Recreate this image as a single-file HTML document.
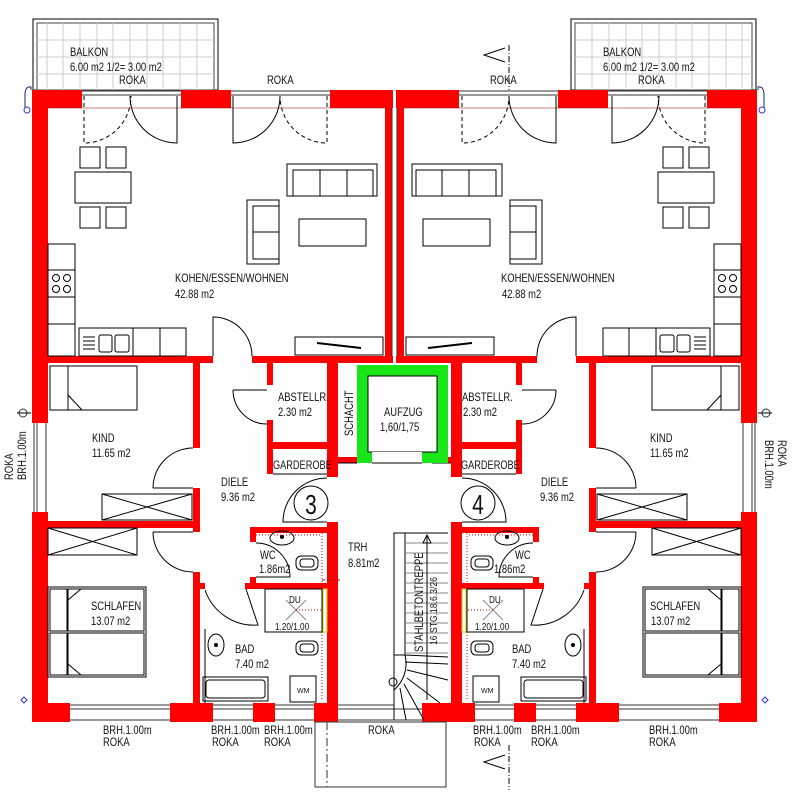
<!DOCTYPE html>
<html><head><meta charset="utf-8"><style>
html,body{margin:0;padding:0;background:#fff}
svg{display:block}
text{font-family:"Liberation Sans",sans-serif;font-size:11.5px;fill:#111}
</style></head><body>
<svg width="797" height="797" viewBox="0 0 797 797" xmlns="http://www.w3.org/2000/svg">
<defs>
<g id="half" stroke="#000" stroke-width="1" fill="none">
  <rect x="33" y="19" width="185" height="71"/>
  <rect x="37" y="23" width="177" height="67" stroke="#444"/>
  <g stroke="#ccc">
    <line x1="37" y1="40" x2="214" y2="40"/><line x1="37" y1="57" x2="214" y2="57"/><line x1="37" y1="74" x2="214" y2="74"/>
    <line x1="47" y1="23" x2="47" y2="90"/><line x1="63" y1="23" x2="63" y2="90"/><line x1="80" y1="23" x2="80" y2="90"/><line x1="97" y1="23" x2="97" y2="90"/><line x1="113" y1="23" x2="113" y2="90"/><line x1="130" y1="23" x2="130" y2="90"/><line x1="147" y1="23" x2="147" y2="90"/><line x1="163" y1="23" x2="163" y2="90"/><line x1="180" y1="23" x2="180" y2="90"/><line x1="197" y1="23" x2="197" y2="90"/>
  </g>
  <path d="M31,90 V87 Q25,86 25,95 V108" stroke="#226"/>
  <circle cx="27" cy="110" r="3" stroke="#33c"/>
  <g stroke="#333">
    <line x1="82" y1="91" x2="181" y2="91"/><line x1="82" y1="95" x2="181" y2="95"/>
    <line x1="231" y1="91" x2="330" y2="91"/><line x1="231" y1="95" x2="330" y2="95"/>
    <line x1="70" y1="705" x2="170" y2="705"/><line x1="70" y1="709" x2="170" y2="709"/><line x1="70" y1="720" x2="170" y2="720"/>
    <line x1="213" y1="705" x2="253" y2="705"/><line x1="213" y1="709" x2="253" y2="709"/><line x1="213" y1="720" x2="253" y2="720"/>
    <line x1="275" y1="705" x2="314" y2="705"/><line x1="275" y1="709" x2="314" y2="709"/><line x1="275" y1="720" x2="314" y2="720"/>
    <line x1="34" y1="423" x2="34" y2="512"/><line x1="37" y1="423" x2="37" y2="512"/><line x1="46" y1="423" x2="46" y2="512"/>
  </g>
  <circle cx="23" cy="413" r="4" stroke="#333"/><line x1="17" y1="413" x2="31" y2="413"/>
  <path d="M27,700 l-3,-3 l-3,3 l3,3 z" stroke="#33c"/>
  <g fill="#ff0000" stroke="none">
    <rect x="32" y="90" width="50" height="18"/><rect x="181" y="90" width="50" height="18"/><rect x="330" y="90" width="63" height="18"/>
    <rect x="32" y="90" width="16" height="333"/><rect x="32" y="512" width="16" height="210"/>
    <rect x="385" y="108" width="7" height="255"/>
    <rect x="48" y="356" width="165" height="7"/><rect x="252" y="356" width="141" height="7"/>
    <rect x="193" y="363" width="7" height="85"/><rect x="193" y="488" width="7" height="44"/><rect x="193" y="572" width="7" height="131"/>
    <rect x="48" y="521" width="152" height="7"/>
    <rect x="267" y="363" width="6" height="22"/><rect x="267" y="420" width="6" height="54"/>
    <rect x="267" y="442" width="66" height="7"/>
    <rect x="327" y="363" width="11" height="114"/><rect x="327" y="522" width="11" height="200"/>
    <rect x="338" y="457" width="19" height="6"/>
    <rect x="250" y="527" width="83" height="6"/><rect x="250" y="527" width="6" height="15"/><rect x="250" y="577" width="6" height="12"/>
    <rect x="245" y="583" width="88" height="6"/><rect x="200" y="583" width="5" height="6"/>
    <rect x="32" y="703" width="38" height="19"/><rect x="170" y="703" width="43" height="19"/><rect x="253" y="703" width="22" height="19"/><rect x="314" y="703" width="24" height="19"/>
  </g>
  <line x1="48" y1="108" x2="385" y2="108" stroke="#900" stroke-width="0.5"/>
  <path d="M84,96 V143 A47,47 0 0 0 131,96" stroke-dasharray="4,3"/>
  <path d="M177,96 V143 A47,47 0 0 1 130,96"/>
  <path d="M233,96 V143 A47,47 0 0 0 280,96"/>
  <path d="M327,96 V143 A47,47 0 0 1 280,96" stroke-dasharray="4,3"/>
  <rect x="80" y="147" width="20" height="21"/><rect x="106" y="147" width="20" height="21"/>
  <rect x="75" y="172" width="56" height="31"/>
  <rect x="80" y="207" width="20" height="21"/><rect x="106" y="207" width="20" height="21"/>
  <rect x="287" y="164" width="90" height="32"/><rect x="293" y="170" width="80" height="26"/>
  <line x1="320" y1="170" x2="320" y2="196"/><line x1="347" y1="170" x2="347" y2="196"/>
  <rect x="247" y="200" width="32" height="64"/><rect x="253" y="206" width="26" height="53"/><line x1="253" y1="232" x2="279" y2="232"/>
  <rect x="299" y="219" width="67" height="27"/>
  <rect x="48" y="244" width="27" height="112"/>
  <line x1="48" y1="270" x2="75" y2="270"/><line x1="48" y1="297" x2="75" y2="297"/><line x1="48" y1="324" x2="75" y2="324"/>
  <circle cx="56" cy="278" r="3.5"/><circle cx="67" cy="278" r="3.5"/><circle cx="56" cy="289" r="3.5"/><circle cx="67" cy="289" r="3.5"/>
  <rect x="79" y="328" width="107" height="28"/>
  <line x1="133" y1="328" x2="133" y2="356"/><line x1="160" y1="328" x2="160" y2="356"/>
  <rect x="99" y="335" width="13" height="17" rx="2"/><rect x="115" y="335" width="14" height="17" rx="2"/>
  <line x1="83" y1="337" x2="95" y2="337"/><line x1="83" y1="341" x2="95" y2="341"/><line x1="83" y1="345" x2="95" y2="345"/><line x1="83" y1="349" x2="95" y2="349"/>
  <rect x="295" y="337" width="88" height="18"/>
  <line x1="317" y1="343" x2="361" y2="348" stroke-width="2"/>
  <path d="M213,356 V317 A39,39 0 0 1 252,356"/>
  <path d="M233,390 H267 M233,390 A34,34 0 0 0 267,424"/>
  <path d="M153,488 H193 M153,488 A40,40 0 0 1 193,448"/>
  <path d="M153,532 H193 M153,532 A40,40 0 0 0 193,572"/>
  <path d="M327,478 A44,44 0 0 0 283,522 H327"/>
  <path d="M256,543 A34,34 0 0 1 290,577 H256"/>
  <path d="M205,590 A52,52 0 0 0 258,625 L246,589"/>
  <circle cx="311" cy="503" r="17"/>
  <rect x="50" y="366" width="87" height="44"/><rect x="50" y="366" width="18" height="44"/><path d="M68,395 l14,15"/>
  <rect x="102" y="494" width="90" height="26"/><path d="M102,494 L192,520 M102,520 L192,494"/>
  <rect x="48" y="528" width="89" height="27"/><path d="M48,528 L137,555 M48,555 L137,528"/>
  <rect x="48" y="587" width="98" height="90"/><rect x="50" y="589" width="17" height="42"/><rect x="50" y="633" width="17" height="42"/>
  <rect x="68" y="589" width="76" height="42"/><rect x="68" y="633" width="76" height="42"/>
  <path d="M68,600 l13,-11 M68,664 l13,11"/>
  <line x1="273" y1="474" x2="327" y2="474"/>
  <line x1="338" y1="463" x2="357" y2="463"/>
  <ellipse cx="282" cy="538" rx="12" ry="7"/><circle cx="282" cy="537" r="1.5" fill="#000"/>
  <rect x="296" y="556" width="22" height="14" rx="5"/><rect x="300" y="559" width="14" height="8" rx="3"/>
  <path d="M322,533 V700" stroke="#c00" stroke-dasharray="1,2"/>
  <line x1="256" y1="535" x2="322" y2="535" stroke="#c00" stroke-dasharray="1,2"/>
  <rect x="265" y="589" width="57" height="43"/>
  <path d="M286,600 L306,620 M306,600 L286,620" stroke="#888"/>
  <line x1="296" y1="610" x2="322" y2="610" stroke="#c00" stroke-dasharray="1,2"/>
  <rect x="323" y="589" width="4" height="43" stroke="#cc0"/>
  <ellipse cx="216" cy="645" rx="8" ry="11"/><circle cx="216" cy="645" r="1.5" fill="#000"/>
  <rect x="296" y="641" width="22" height="14" rx="5"/><rect x="300" y="644" width="14" height="8" rx="3"/>
  <rect x="203" y="677" width="65" height="24"/><rect x="206" y="680" width="59" height="18" rx="3"/>
  <rect x="290" y="676" width="26" height="26"/>
  <line x1="205" y1="629" x2="205" y2="703"/>
</g>
</defs>

<use href="#half"/>
<use href="#half" transform="translate(789,0) scale(-1,1)"/>

<rect x="422" y="703" width="30" height="19" fill="#ff0000"/>
<g stroke="#333" fill="none">
  <line x1="338" y1="705" x2="394" y2="705"/><line x1="338" y1="709" x2="422" y2="709"/><line x1="338" y1="720" x2="422" y2="720"/>
  <line x1="392" y1="108" x2="392" y2="356"/><line x1="397" y1="108" x2="397" y2="356"/>
  <rect x="315" y="722" width="131" height="65"/>
  <line x1="327" y1="722" x2="327" y2="787" stroke-dasharray="8,3,2,3"/>
</g>
<rect x="357" y="365" width="91" height="98" fill="#19e619"/>
<rect x="368" y="376" width="69" height="76" fill="#fff" stroke="#000"/>
<rect x="372" y="452" width="50" height="11" fill="#fff"/>
<line x1="372" y1="463" x2="422" y2="463" stroke="#000"/>
<g stroke="#000" fill="none">
  <path d="M394,720 V533 H448"/>
  <line x1="405" y1="533" x2="405" y2="655"/>
  <g stroke="#888">
    <line x1="405" y1="543" x2="448" y2="543"/><line x1="405" y1="553" x2="448" y2="553"/><line x1="405" y1="563" x2="448" y2="563"/><line x1="405" y1="573" x2="448" y2="573"/><line x1="405" y1="583" x2="448" y2="583"/><line x1="405" y1="593" x2="448" y2="593"/><line x1="405" y1="603" x2="448" y2="603"/><line x1="405" y1="613" x2="448" y2="613"/><line x1="405" y1="623" x2="448" y2="623"/><line x1="405" y1="633" x2="448" y2="633"/><line x1="405" y1="643" x2="448" y2="643"/><line x1="405" y1="653" x2="448" y2="653"/>
  </g>
  <path d="M394,655 H405 A35,35 0 0 1 394,690"/>
  <path d="M405,662 L448,664 M407,670 L448,680 M407,678 L440,703 M404,684 L424,720 M400,688 L406,720 M405,655 L448,657"/>
  <circle cx="393" cy="682" r="4"/>
  <path d="M427,700 V535 M423,543 L427,535 L431,543 Z"/>
</g>
<g stroke="#000" fill="none">
  <line x1="509" y1="45" x2="509" y2="90" stroke-dasharray="6,2,1,2"/>
  <path d="M505,48 L484,55 L505,62"/>
  <line x1="509" y1="745" x2="509" y2="790" stroke-dasharray="6,2,1,2"/>
  <path d="M505,755 L484,762 L505,769"/>
  <line x1="322" y1="580" x2="340" y2="580" stroke="#c00" stroke-dasharray="3,2"/>
</g>

<g>
<text transform="matrix(0.82,0,0,1,70,56)">BALKON</text>
<text transform="matrix(0.82,0,0,1,70,71)">6.00 m2 1/2= 3.00 m2</text>
<text transform="matrix(0.82,0,0,1,119,84)">ROKA</text>
<text transform="matrix(0.82,0,0,1,267,84)">ROKA</text>
<text transform="matrix(0.82,0,0,1,603,56)">BALKON</text>
<text transform="matrix(0.82,0,0,1,603,71)">6.00 m2 1/2= 3.00 m2</text>
<text transform="matrix(0.82,0,0,1,638,84)">ROKA</text>
<text transform="matrix(0.82,0,0,1,490,84)">ROKA</text>
<text transform="matrix(0.82,0,0,1,175,282)">KOHEN/ESSEN/WOHNEN</text>
<text transform="matrix(0.82,0,0,1,175,298)">42.88 m2</text>
<text transform="matrix(0.82,0,0,1,501,282)">KOHEN/ESSEN/WOHNEN</text>
<text transform="matrix(0.82,0,0,1,502,298)">42.88 m2</text>
<text transform="matrix(0.82,0,0,1,278,401)">ABSTELLR.</text>
<text transform="matrix(0.82,0,0,1,278,416)">2.30 m2</text>
<text transform="matrix(0.82,0,0,1,462,401)">ABSTELLR.</text>
<text transform="matrix(0.82,0,0,1,463,416)">2.30 m2</text>
<text transform="matrix(0.82,0,0,1,384,416)">AUFZUG</text>
<text transform="matrix(0.82,0,0,1,380,431)">1,60/1,75</text>
<text transform="translate(353,436) rotate(-90) scale(0.82,1)">SCHACHT</text>
<text transform="matrix(0.8,0,0,1,273,469)">GARDEROBE</text>
<text transform="matrix(0.8,0,0,1,461,469)">GARDEROBE</text>
<text transform="matrix(0.82,0,0,1,92,442)">KIND</text>
<text transform="matrix(0.82,0,0,1,92,457)">11.65 m2</text>
<text transform="matrix(0.82,0,0,1,650,442)">KIND</text>
<text transform="matrix(0.82,0,0,1,650,457)">11.65 m2</text>
<text transform="matrix(0.82,0,0,1,221,486)">DIELE</text>
<text transform="matrix(0.82,0,0,1,221,501)">9.36 m2</text>
<text transform="matrix(0.82,0,0,1,541,486)">DIELE</text>
<text transform="matrix(0.82,0,0,1,540,501)">9.36 m2</text>
<text transform="matrix(0.75,0,0,1,311,514)" style="font-size:28px" text-anchor="middle">3</text>
<text transform="matrix(0.75,0,0,1,478,514)" style="font-size:28px" text-anchor="middle">4</text>
<text transform="matrix(0.82,0,0,1,348,551)">TRH</text>
<text transform="matrix(0.82,0,0,1,348,567)">8.81m2</text>
<text transform="matrix(0.82,0,0,1,260,559)">WC</text>
<text transform="matrix(0.82,0,0,1,259,573)">1.86m2</text>
<text transform="matrix(0.82,0,0,1,515,559)">WC</text>
<text transform="matrix(0.82,0,0,1,494,573)">1.86m2</text>
<text transform="matrix(0.82,0,0,1,289,603)" style="font-size:10px">DU</text>
<text transform="matrix(0.82,0,0,1,275,630)" style="font-size:10px">1.20/1.00</text>
<text transform="matrix(0.82,0,0,1,489,603)" style="font-size:10px">DU</text>
<text transform="matrix(0.82,0,0,1,475,630)" style="font-size:10px">1.20/1.00</text>
<text transform="matrix(0.82,0,0,1,235,653)">BAD</text>
<text transform="matrix(0.82,0,0,1,235,668)">7.40 m2</text>
<text transform="matrix(0.82,0,0,1,512,653)">BAD</text>
<text transform="matrix(0.82,0,0,1,512,668)">7.40 m2</text>
<text transform="matrix(0.82,0,0,1,91,610)">SCHLAFEN</text>
<text transform="matrix(0.82,0,0,1,91,625)">13.07 m2</text>
<text transform="matrix(0.82,0,0,1,650,610)">SCHLAFEN</text>
<text transform="matrix(0.82,0,0,1,651,625)">13.07 m2</text>
<text x="297" y="693" style="font-size:7px">WM</text>
<text x="481" y="693" style="font-size:7px">WM</text>
<text transform="translate(423,652) rotate(-90) scale(0.82,1)">STAHLBETONTREPPE</text>
<text transform="translate(437,645) rotate(-90) scale(0.82,1)" style="font-size:10.5px">16 STG.18.6.3/26</text>
<text transform="matrix(0.82,0,0,1,103,734)">BRH.1.00m</text><text transform="matrix(0.82,0,0,1,103,746)">ROKA</text>
<text transform="matrix(0.82,0,0,1,211,734)">BRH.1.00m</text><text transform="matrix(0.82,0,0,1,212,746)">ROKA</text>
<text transform="matrix(0.82,0,0,1,264,734)">BRH.1.00m</text><text transform="matrix(0.82,0,0,1,264,746)">ROKA</text>
<text transform="matrix(0.82,0,0,1,368,734)">ROKA</text>
<text transform="matrix(0.82,0,0,1,473,734)">BRH.1.00m</text><text transform="matrix(0.82,0,0,1,474,746)">ROKA</text>
<text transform="matrix(0.82,0,0,1,531,734)">BRH.1.00m</text><text transform="matrix(0.82,0,0,1,531,746)">ROKA</text>
<text transform="matrix(0.82,0,0,1,649,734)">BRH.1.00m</text><text transform="matrix(0.82,0,0,1,649,746)">ROKA</text>
<text transform="translate(13,480) rotate(-90) scale(0.82,1)">ROKA</text>
<text transform="translate(26,480) rotate(-90) scale(0.82,1)">BRH.1.00m</text>
<text transform="translate(765,440) rotate(90) scale(0.82,1)">BRH.1.00m</text>
<text transform="translate(778,440) rotate(90) scale(0.82,1)">ROKA</text>
</g>
</svg>
</body></html>
